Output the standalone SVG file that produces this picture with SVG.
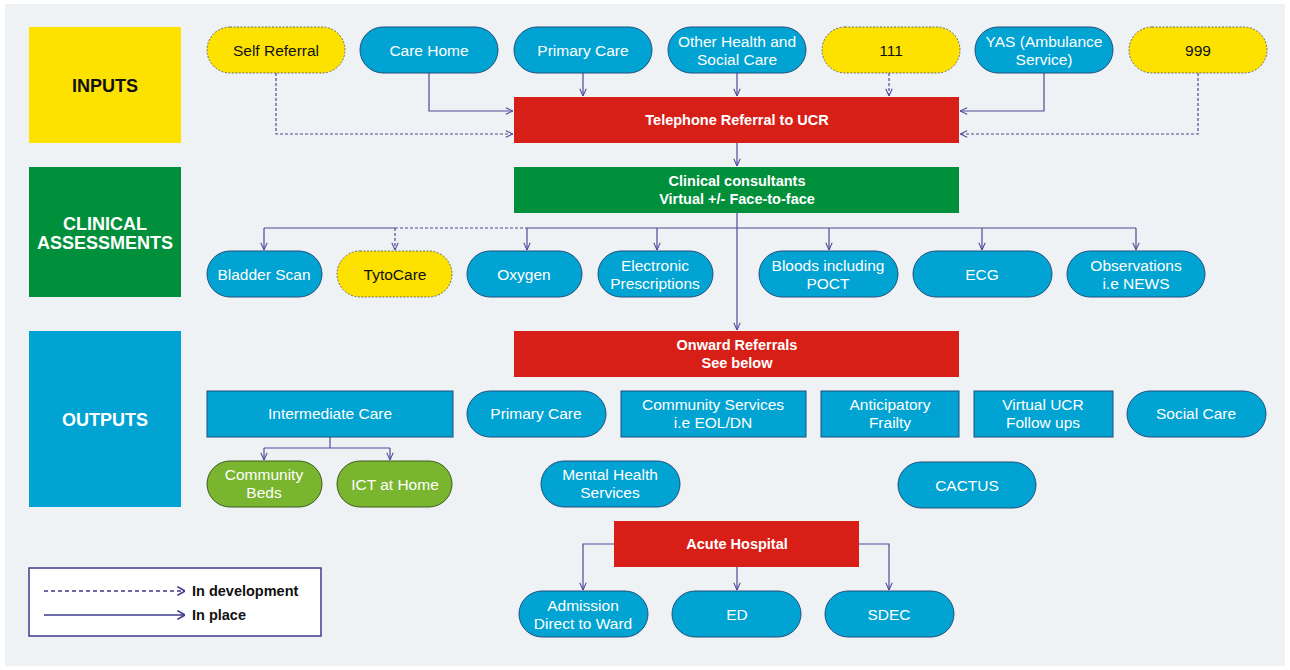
<svg xmlns="http://www.w3.org/2000/svg" width="1290" height="670" viewBox="0 0 1290 670">
<style>
text{font-family:"Liberation Sans",Arial,sans-serif;text-anchor:middle}
.t{font-size:15.5px;fill:#fff}
.tk{font-size:15.5px;fill:#111}
.b{font-size:14.5px;font-weight:bold;fill:#fff}
.cat{font-size:18px;font-weight:bold}
.blue{fill:#00a3d2;stroke:#1e4f7c;stroke-width:1}
.rblue{fill:#00a3d2;stroke:#1e4f7c;stroke-width:1}
.yel{fill:#fde200;stroke:#6b6b6b;stroke-width:1;stroke-dasharray:2 1.5}
.grn{fill:#7ab530;stroke:#3d5a1a;stroke-width:1}
.red{fill:#d81f17}
.green{fill:#008f3b}
.c{fill:none;stroke:#4c4a98;stroke-width:1.2}
.d{stroke-dasharray:3 2}
.leg{font-size:14.5px;font-weight:bold;fill:#111;text-anchor:start}
</style>
<defs>
<marker id="ah" viewBox="0 0 10 10" refX="10" refY="5" markerWidth="8" markerHeight="8" orient="auto" markerUnits="userSpaceOnUse">
<path d="M1,1 L10,5 L1,9" fill="none" stroke="#4c4a98" stroke-width="1.3"/>
</marker>
<marker id="ahl" viewBox="0 0 10 10" refX="10" refY="5" markerWidth="11" markerHeight="11" orient="auto" markerUnits="userSpaceOnUse">
<path d="M3,1 L10,5 L3,9" fill="none" stroke="#3e3a8c" stroke-width="1.4"/>
</marker>
</defs>
<rect x="0" y="0" width="1290" height="670" fill="#fff"/>
<rect x="5" y="4" width="1280" height="662" fill="#eff2f4"/>

<g id="cat-inputs"><rect x="29" y="27" width="152" height="116" fill="#fde200"/><text class="cat" x="105" y="92" fill="#111">INPUTS</text></g>
<g id="cat-clinical"><rect x="29" y="167" width="152" height="130" class="green"/><text class="cat" x="105" y="230" fill="#fff">CLINICAL</text><text class="cat" x="105" y="249" fill="#fff">ASSESSMENTS</text></g>
<g id="cat-outputs"><rect x="29" y="331" width="152" height="176" fill="#00a3d2"/><text class="cat" x="105" y="426" fill="#fff">OUTPUTS</text></g>

<g id="connectors">
<path class="c d" d="M276,73 V134 H513" marker-end="url(#ah)"/>
<path class="c" d="M429,73 V111 H513" marker-end="url(#ah)"/>
<path class="c" d="M583,73 V96" marker-end="url(#ah)"/>
<path class="c" d="M737,73 V96" marker-end="url(#ah)"/>
<path class="c d" d="M889,73 V96" marker-end="url(#ah)"/>
<path class="c" d="M1044,73 V111 H960" marker-end="url(#ah)"/>
<path class="c d" d="M1198,73 V134 H960" marker-end="url(#ah)"/>
<path class="c" d="M737,143 V166" marker-end="url(#ah)"/>
<path class="c" d="M737,213 V330" marker-end="url(#ah)"/>
<path class="c" d="M264,228 H395"/>
<path class="c d" d="M395,228 H527"/>
<path class="c" d="M527,228 H1136"/>
<path class="c" d="M264,228 V250" marker-end="url(#ah)"/>
<path class="c d" d="M395,228 V250" marker-end="url(#ah)"/>
<path class="c" d="M527,228 V250" marker-end="url(#ah)"/>
<path class="c" d="M657,228 V250" marker-end="url(#ah)"/>
<path class="c" d="M829,228 V250" marker-end="url(#ah)"/>
<path class="c" d="M982,228 V250" marker-end="url(#ah)"/>
<path class="c" d="M1136,228 V250" marker-end="url(#ah)"/>
<path class="c" d="M330,437 V448"/>
<path class="c" d="M264,448 H390"/>
<path class="c" d="M264,448 V460" marker-end="url(#ah)"/>
<path class="c" d="M390,448 V460" marker-end="url(#ah)"/>
<path class="c" d="M614,544 H583 V590" marker-end="url(#ah)"/>
<path class="c" d="M737,567 V590" marker-end="url(#ah)"/>
<path class="c" d="M859,544 H889 V590" marker-end="url(#ah)"/>
</g>

<g id="n-self"><rect class="yel" x="207" y="27" width="138" height="46" rx="23"/><text class="tk" x="276" y="56">Self Referral</text></g>
<g id="n-carehome"><rect class="blue" x="360" y="27" width="138" height="46" rx="23"/><text class="t" x="429" y="56">Care Home</text></g>
<g id="n-primary-in"><rect class="blue" x="514" y="27" width="138" height="46" rx="23"/><text class="t" x="583" y="56">Primary Care</text></g>
<g id="n-other"><rect class="blue" x="668" y="27" width="138" height="46" rx="23"/><text class="t" x="737" y="47">Other Health and</text><text class="t" x="737" y="65">Social Care</text></g>
<g id="n-111"><rect class="yel" x="822" y="27" width="138" height="46" rx="23"/><text class="tk" x="891" y="56">111</text></g>
<g id="n-yas"><rect class="blue" x="975" y="27" width="138" height="46" rx="23"/><text class="t" x="1044" y="47">YAS (Ambulance</text><text class="t" x="1044" y="65">Service)</text></g>
<g id="n-999"><rect class="yel" x="1129" y="27" width="138" height="46" rx="23"/><text class="tk" x="1198" y="56">999</text></g>

<g id="n-tel"><rect class="red" x="514" y="97" width="445" height="46"/><text class="b" x="737" y="125">Telephone Referral to UCR</text></g>
<g id="n-clin"><rect class="green" x="514" y="167" width="445" height="46"/><text class="b" x="737" y="186">Clinical consultants</text><text class="b" x="737" y="204">Virtual +/- Face-to-face</text></g>

<g id="n-bladder"><rect class="blue" x="207" y="251" width="115" height="46" rx="23"/><text class="t" x="264" y="280">Bladder Scan</text></g>
<g id="n-tyto"><rect class="yel" x="337" y="251" width="115" height="46" rx="23"/><text class="tk" x="395" y="280">TytoCare</text></g>
<g id="n-oxygen"><rect class="blue" x="467" y="251" width="115" height="46" rx="23"/><text class="t" x="524" y="280">Oxygen</text></g>
<g id="n-eprescr"><rect class="blue" x="598" y="251" width="115" height="46" rx="23"/><text class="t" x="655" y="271">Electronic</text><text class="t" x="655" y="289">Prescriptions</text></g>
<g id="n-bloods"><rect class="blue" x="759" y="251" width="139" height="46" rx="23"/><text class="t" x="828" y="271">Bloods including</text><text class="t" x="828" y="289">POCT</text></g>
<g id="n-ecg"><rect class="blue" x="913" y="251" width="139" height="46" rx="23"/><text class="t" x="982" y="280">ECG</text></g>
<g id="n-obs"><rect class="blue" x="1067" y="251" width="138" height="46" rx="23"/><text class="t" x="1136" y="271">Observations</text><text class="t" x="1136" y="289">i.e NEWS</text></g>

<g id="n-onward"><rect class="red" x="514" y="331" width="445" height="46"/><text class="b" x="737" y="350">Onward Referrals</text><text class="b" x="737" y="368">See below</text></g>

<g id="n-intermediate"><rect class="rblue" x="207" y="391" width="246" height="46"/><text class="t" x="330" y="419">Intermediate Care</text></g>
<g id="n-primary-out"><rect class="blue" x="467" y="391" width="139" height="46" rx="23"/><text class="t" x="536" y="419">Primary Care</text></g>
<g id="n-community"><rect class="rblue" x="621" y="391" width="185" height="46"/><text class="t" x="713" y="410">Community Services</text><text class="t" x="713" y="428">i.e EOL/DN</text></g>
<g id="n-anticip"><rect class="rblue" x="821" y="391" width="138" height="46"/><text class="t" x="890" y="410">Anticipatory</text><text class="t" x="890" y="428">Frailty</text></g>
<g id="n-virtual"><rect class="rblue" x="974" y="391" width="139" height="46"/><text class="t" x="1043" y="410">Virtual UCR</text><text class="t" x="1043" y="428">Follow ups</text></g>
<g id="n-social"><rect class="blue" x="1127" y="391" width="139" height="46" rx="23"/><text class="t" x="1196" y="419">Social Care</text></g>

<g id="n-beds"><rect class="grn" x="207" y="461" width="115" height="46" rx="23"/><text class="t" x="264" y="480">Community</text><text class="t" x="264" y="498">Beds</text></g>
<g id="n-ict"><rect class="grn" x="337" y="461" width="115" height="46" rx="23"/><text class="t" x="395" y="490">ICT at Home</text></g>
<g id="n-mental"><rect class="blue" x="541" y="461" width="139" height="46" rx="23"/><text class="t" x="610" y="480">Mental Health</text><text class="t" x="610" y="498">Services</text></g>
<g id="n-cactus"><rect class="blue" x="898" y="462" width="138" height="46" rx="23"/><text class="t" x="967" y="491">CACTUS</text></g>

<g id="n-acute"><rect class="red" x="614" y="521" width="245" height="46"/><text class="b" x="737" y="549">Acute Hospital</text></g>
<g id="n-admission"><rect class="blue" x="519" y="591" width="129" height="46" rx="23"/><text class="t" x="583" y="611">Admission</text><text class="t" x="583" y="629">Direct to Ward</text></g>
<g id="n-ed"><rect class="blue" x="672" y="591" width="129" height="46" rx="23"/><text class="t" x="737" y="620">ED</text></g>
<g id="n-sdec"><rect class="blue" x="825" y="591" width="129" height="46" rx="23"/><text class="t" x="889" y="620">SDEC</text></g>

<g id="legend">
<rect x="29" y="568" width="292" height="68" fill="#fff" stroke="#3e3a8c" stroke-width="1.5"/>
<path d="M44,591 H185" fill="none" stroke="#3e3a8c" stroke-width="1.4" stroke-dasharray="4 3" marker-end="url(#ahl)"/>
<path d="M44,615 H185" fill="none" stroke="#3e3a8c" stroke-width="1.4" marker-end="url(#ahl)"/>
<text class="leg" x="192" y="596">In development</text>
<text class="leg" x="192" y="620">In place</text>
</g>
</svg>
